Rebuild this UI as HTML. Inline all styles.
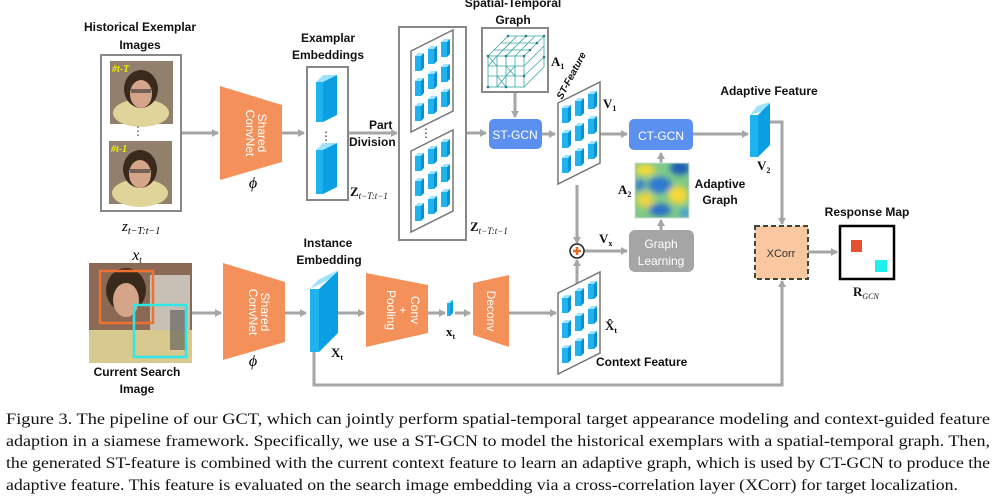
<!DOCTYPE html>
<html><head><meta charset="utf-8"><style>
html,body{margin:0;padding:0;background:#fff;width:997px;height:498px;overflow:hidden}
svg{display:block}
.l{font-family:"Liberation Sans",sans-serif;font-weight:bold;font-size:12px;fill:#111}
.m{font-family:"Liberation Serif",serif;font-weight:bold;font-size:13px;fill:#111}
.c{font-family:"Liberation Serif",serif;font-size:16px;fill:#111}
.w{font-family:"Liberation Sans",sans-serif;font-size:12px;fill:#fff}
</style></head><body>
<svg width="997" height="498" viewBox="0 0 997 498" xmlns="http://www.w3.org/2000/svg">
<defs>
<marker id="ah" markerWidth="8" markerHeight="8" refX="6" refY="4" orient="auto" markerUnits="userSpaceOnUse"><path d="M0,0 L7,4 L0,8 z" fill="#a6a6a6"/></marker>
<g id="blk"><polygon points="0,3 3,0 9,0 6,3" fill="#9be3ff"/><rect x="0" y="3" width="6" height="15" fill="#1eb3ee"/><polygon points="6,3 9,0 9,15 6,18" fill="#0b8fd0"/></g>
<g id="par">
<polygon points="0,21 42,0 42,81 0,102" fill="#fff" stroke="#777" stroke-width="1.5"/>
<use href="#blk" x="4" y="23"/><use href="#blk" x="17" y="16"/><use href="#blk" x="30" y="9"/>
<use href="#blk" x="4" y="48"/><use href="#blk" x="17" y="41"/><use href="#blk" x="30" y="34"/>
<use href="#blk" x="4" y="73"/><use href="#blk" x="17" y="66"/><use href="#blk" x="30" y="59"/>
</g>
<g id="face">
<rect width="63" height="63" fill="#6b5a4a"/>
<rect x="0" y="0" width="63" height="63" fill="#c9b9a0" opacity="0.4"/>
<ellipse cx="31" cy="52" rx="28" ry="14" fill="#e0d49a"/>
<ellipse cx="31" cy="28" rx="17" ry="19" fill="#3a2a1e"/>
<ellipse cx="31" cy="33" rx="11" ry="14" fill="#d5a58a"/>
<rect x="21" y="28" width="20" height="4" fill="#333" opacity="0.6"/>
</g>
<filter id="bl"><feGaussianBlur stdDeviation="3"/></filter>
<clipPath id="hc"><rect x="635" y="163" width="54" height="55"/></clipPath>
</defs>

<g stroke="#a6a6a6" stroke-width="3" fill="none">
<line x1="181" y1="133" x2="218" y2="133" marker-end="url(#ah)"/>
<line x1="282" y1="133" x2="304" y2="133" marker-end="url(#ah)"/>
<line x1="348" y1="133" x2="397" y2="133" marker-end="url(#ah)"/>
<line x1="466" y1="133" x2="486" y2="133" marker-end="url(#ah)"/>
<line x1="515" y1="92" x2="515" y2="117" marker-end="url(#ah)"/>
<line x1="542" y1="134" x2="555" y2="134" marker-end="url(#ah)"/>
<line x1="600" y1="134" x2="627" y2="134" marker-end="url(#ah)"/>
<line x1="693" y1="134" x2="748" y2="134" marker-end="url(#ah)"/>
<polyline points="770,122 782,122 782,224" marker-end="url(#ah)"/>
<line x1="661" y1="163" x2="661" y2="153" marker-end="url(#ah)"/>
<line x1="661" y1="230" x2="661" y2="220" marker-end="url(#ah)"/>
<line x1="577" y1="185" x2="577" y2="243" marker-end="url(#ah)"/>
<line x1="577" y1="285" x2="577" y2="260" marker-end="url(#ah)"/>
<line x1="584" y1="251" x2="627" y2="251" marker-end="url(#ah)"/>
<line x1="808" y1="252" x2="837" y2="252" marker-end="url(#ah)"/>
<line x1="192" y1="313" x2="221" y2="313" marker-end="url(#ah)"/>
<line x1="285" y1="313" x2="306" y2="313" marker-end="url(#ah)"/>
<line x1="338" y1="313" x2="364" y2="313" marker-end="url(#ah)"/>
<line x1="428" y1="313" x2="445" y2="313" marker-end="url(#ah)"/>
<line x1="455" y1="313" x2="470" y2="313" marker-end="url(#ah)"/>
<line x1="509" y1="313" x2="556" y2="313" marker-end="url(#ah)"/>
<polyline points="314,352 314,385 782,385 782,281" marker-end="url(#ah)"/>
</g>

<text class="l" x="140" y="31" text-anchor="middle">Historical Exemplar</text>
<text class="l" x="140" y="49" text-anchor="middle">Images</text>
<rect x="101" y="55" width="80" height="156" fill="#fff" stroke="#888" stroke-width="2"/>
<use href="#face" x="110" y="61"/>
<use href="#face" x="109" y="141"/>
<text x="112" y="72" font-family="Liberation Serif" font-style="italic" font-weight="bold" font-size="10" fill="#ee0">#t-T</text>
<text x="111" y="152" font-family="Liberation Serif" font-style="italic" font-weight="bold" font-size="10" fill="#ee0">#t-1</text>
<text x="138" y="135" font-size="12" text-anchor="middle" fill="#555">⋮</text>
<text x="122" y="231" font-family="Liberation Serif" font-style="italic" font-size="15">z<tspan font-size="10" dy="3">t−T:t−1</tspan></text>

<polygon points="220,86 282,105 282,162 220,180" fill="#f4915b"/>
<text class="w" transform="translate(246,133) rotate(90)" text-anchor="middle" font-size="11">ConvNet</text>
<text class="w" transform="translate(258,133) rotate(90)" text-anchor="middle" font-size="11">Shared</text>
<text x="253" y="188" font-family="Liberation Serif" font-style="italic" font-size="16" text-anchor="middle">ϕ</text>
<polygon points="223,263 285,282 285,342 223,360" fill="#f4915b"/>
<text class="w" transform="translate(249,312) rotate(90)" text-anchor="middle" font-size="11">ConvNet</text>
<text class="w" transform="translate(261,312) rotate(90)" text-anchor="middle" font-size="11">Shared</text>
<text x="253" y="366" font-family="Liberation Serif" font-style="italic" font-size="16" text-anchor="middle">ϕ</text>

<text class="l" x="328" y="42" text-anchor="middle">Examplar</text>
<text class="l" x="328" y="59" text-anchor="middle">Embeddings</text>
<rect x="307" y="67" width="41" height="133" fill="#fff" stroke="#888" stroke-width="2"/>
<g><polygon points="316,82 323,75 337,75 330,82" fill="#9be3ff"/><rect x="316" y="82" width="7" height="40" fill="#1eb3ee"/><polygon points="323,82 337,75 337,115 323,122" fill="#0b9ee0"/></g>
<g><polygon points="316,150 323,143 337,143 330,150" fill="#9be3ff"/><rect x="316" y="150" width="7" height="44" fill="#1eb3ee"/><polygon points="323,150 337,143 337,187 323,194" fill="#0b9ee0"/></g>
<text x="326" y="140" font-size="12" text-anchor="middle" fill="#333">⋮</text>
<text class="m" x="350" y="196" font-size="15">Z<tspan font-family="Liberation Serif" font-weight="normal" font-style="italic" font-size="9" dy="3">t−T:t−1</tspan></text>
<text class="l" x="369" y="129">Part</text>
<text class="l" x="349" y="146">Division</text>

<rect x="399" y="27" width="67" height="213" fill="#fff" stroke="#888" stroke-width="2"/>
<use href="#par" x="411" y="30"/>
<use href="#par" x="411" y="130"/>
<text x="426" y="137" font-size="12" text-anchor="middle" fill="#333">⋮</text>
<text class="m" x="470" y="231" font-size="15">Z<tspan font-family="Liberation Serif" font-weight="normal" font-style="italic" font-size="9" dy="3">t−T:t−1</tspan></text>

<text class="l" x="513" y="7" text-anchor="middle">Spatial-Temporal</text>
<text class="l" x="513" y="24" text-anchor="middle">Graph</text>
<rect x="482" y="28" width="66" height="64" fill="#fff" stroke="#888" stroke-width="2"/>
<g stroke="#3aa5a5" stroke-width="0.8" fill="none">
<rect x="488" y="56" width="36" height="31"/>
<line x1="497" y1="56" x2="497" y2="87"/><line x1="506" y1="56" x2="506" y2="87"/><line x1="515" y1="56" x2="515" y2="87"/>
<line x1="488" y1="66" x2="524" y2="66"/><line x1="488" y1="76" x2="524" y2="76"/>
<path d="M488,56 L508,36 L544,36 L544,67 L524,87 M524,56 L544,36 M497,56 L517,36 M506,56 L526,36 M515,56 L535,36 M494,50 L530,50 M501,43 L537,43 M524,66 L544,46 M524,76 L544,57"/>
<path d="M488,56 L497,66 M497,56 L488,66 M506,66 L515,76 M515,66 L506,76 M497,76 L506,87 M506,76 L497,87"/>
</g>
<g fill="#2b7a8a"><circle cx="488" cy="56" r="1.3"/><circle cx="506" cy="56" r="1.3"/><circle cx="524" cy="56" r="1.3"/><circle cx="508" cy="36" r="1.3"/><circle cx="526" cy="36" r="1.3"/><circle cx="544" cy="36" r="1.3"/><circle cx="544" cy="57" r="1.3"/><circle cx="524" cy="76" r="1.3"/><circle cx="488" cy="87" r="1.3"/><circle cx="506" cy="87" r="1.3"/><circle cx="530" cy="50" r="1.3"/><circle cx="537" cy="43" r="1.3"/></g>
<text class="m" x="551" y="66" font-size="14">A<tspan font-size="8" dy="3">1</tspan></text>

<rect x="489" y="119" width="53" height="30" rx="5" fill="#5b8ff0"/>
<text class="w" x="515" y="139" text-anchor="middle" font-size="13">ST-GCN</text>

<use href="#par" x="558" y="82"/>
<text transform="translate(562,100) rotate(-62)" font-family="Liberation Sans" font-style="italic" font-weight="bold" font-size="10" fill="#111">ST-Feature</text>
<text class="m" x="603" y="108" font-size="14">V<tspan font-size="8" dy="3">1</tspan></text>

<rect x="629" y="119" width="64" height="31" rx="5" fill="#5b8ff0"/>
<text class="w" x="661" y="140" text-anchor="middle" font-size="13">CT-GCN</text>

<text class="l" x="769" y="95" text-anchor="middle">Adaptive Feature</text>
<g><polygon points="750,115 757,106 770,102 763,111" fill="#9be3ff"/><rect x="750" y="115" width="8" height="42" fill="#1eb3ee"/><polygon points="758,115 770,103 770,145 758,157" fill="#0b9ee0"/></g>
<text class="m" x="757" y="170" font-size="14">V<tspan font-size="8" dy="3">2</tspan></text>

<g clip-path="url(#hc)">
<rect x="635" y="163" width="54" height="55" fill="#7fc98a"/>
<g filter="url(#bl)">
<ellipse cx="645" cy="170" rx="10" ry="6" fill="#f2d93a"/>
<ellipse cx="680" cy="168" rx="10" ry="7" fill="#1e5fb5"/>
<ellipse cx="660" cy="185" rx="12" ry="8" fill="#2f7ad0"/>
<ellipse cx="678" cy="195" rx="10" ry="9" fill="#f5d83a"/>
<ellipse cx="645" cy="200" rx="9" ry="8" fill="#e9d444"/>
<ellipse cx="660" cy="210" rx="11" ry="6" fill="#2a6fc8"/>
<ellipse cx="640" cy="185" rx="5" ry="6" fill="#3c7fd0"/>
<ellipse cx="685" cy="213" rx="6" ry="5" fill="#4aa0d0"/>
</g></g>
<rect x="635" y="163" width="54" height="55" fill="none" stroke="#cdd" stroke-width="1"/>
<text class="m" x="618" y="194" font-size="14">A<tspan font-size="8" dy="3">2</tspan></text>
<text class="l" x="720" y="188" text-anchor="middle">Adaptive</text>
<text class="l" x="720" y="204" text-anchor="middle">Graph</text>

<rect x="629" y="230" width="65" height="42" rx="6" fill="#a5a5a5"/>
<text class="w" x="661" y="248" text-anchor="middle" font-size="12">Graph</text>
<text class="w" x="661" y="265" text-anchor="middle" font-size="12">Learning</text>

<circle cx="577" cy="251" r="7" fill="#fff" stroke="#222" stroke-width="1.5"/>
<path d="M573,251 H581 M577,247 V255" stroke="#e07020" stroke-width="2.5"/>
<text class="m" x="599" y="243" font-size="13">V<tspan font-size="8" dy="3">x</tspan></text>

<use href="#par" x="558" y="272"/>
<text class="m" x="605" y="330" font-size="15">X̂<tspan font-size="8" dy="3">t</tspan></text>
<text class="l" x="596" y="366">Context  Feature</text>

<rect x="755" y="226" width="53" height="53" fill="#f9c8a0" stroke="#3a4a35" stroke-width="2" stroke-dasharray="5,3"/>
<text x="781" y="257" text-anchor="middle" font-family="Liberation Sans" font-size="11" fill="#333">XCorr</text>
<text class="l" x="867" y="216" text-anchor="middle">Response Map</text>
<rect x="840" y="226" width="54" height="53" fill="#fff" stroke="#000" stroke-width="2.5"/>
<rect x="851" y="240" width="11" height="12" fill="#e5502f"/>
<rect x="875" y="260" width="12" height="12" fill="#1ef0ee"/>
<text class="m" x="853" y="296" font-size="14">R<tspan font-weight="normal" font-style="italic" font-size="8" dy="3">GCN</tspan></text>

<text x="137" y="260" font-family="Liberation Serif" font-style="italic" font-size="16" text-anchor="middle">x<tspan font-size="9" dy="3">t</tspan></text>
<rect x="89" y="263" width="103" height="100" fill="#8a6a55"/>
<rect x="150" y="275" width="40" height="85" fill="#c8c0b5"/>
<rect x="89" y="330" width="103" height="33" fill="#d8c98e"/>
<ellipse cx="126" cy="290" rx="20" ry="22" fill="#3a2a1e"/>
<ellipse cx="126" cy="300" rx="13" ry="17" fill="#d5a58a"/>
<rect x="170" y="310" width="16" height="40" fill="#555" opacity="0.6"/>
<rect x="100" y="271" width="53" height="52" fill="none" stroke="#f07030" stroke-width="2.5"/>
<rect x="134" y="305" width="52" height="52" fill="none" stroke="#30e6e6" stroke-width="2.5"/>
<text class="l" x="137" y="376" text-anchor="middle">Current Search</text>
<text class="l" x="137" y="393" text-anchor="middle">Image</text>

<text class="l" x="328" y="247" text-anchor="middle">Instance</text>
<text class="l" x="329" y="264" text-anchor="middle">Embedding</text>
<g><polygon points="310,289 318,280 338,270 330,279" fill="#9be3ff"/><rect x="310" y="289" width="9" height="63" fill="#1eb3ee"/><polygon points="319,289 338,271 338,333 319,352" fill="#0b9ee0"/></g>
<text class="m" x="331" y="357" font-size="14">X<tspan font-size="8" dy="3">t</tspan></text>

<polygon points="366,273 428,285 428,333 366,347" fill="#f4915b"/>
<text class="w" transform="translate(411,310) rotate(90)" text-anchor="middle" font-size="11">Conv</text>
<text class="w" transform="translate(399,310) rotate(90)" text-anchor="middle" font-size="11">+</text>
<text class="w" transform="translate(387,310) rotate(90)" text-anchor="middle" font-size="11">Pooling</text>

<g><polygon points="447,303 449,301 453,300 451,302" fill="#9be3ff"/><rect x="447" y="303" width="3" height="13" fill="#1eb3ee"/><polygon points="450,303 453,300 453,313 450,316" fill="#0b9ee0"/></g>
<text class="m" x="446" y="336" font-size="13">x<tspan font-size="8" dy="3">t</tspan></text>

<polygon points="473,283 509,275 509,347 473,335" fill="#f4915b"/>
<text class="w" transform="translate(487,311) rotate(90)" text-anchor="middle" font-size="11">Deconv</text>

<text class="c" x="6" y="424" textLength="984" lengthAdjust="spacingAndGlyphs">Figure 3. The pipeline of our GCT, which can jointly perform spatial-temporal target appearance modeling and context-guided feature</text>
<text class="c" x="6" y="446" textLength="984" lengthAdjust="spacingAndGlyphs">adaption in a siamese framework. Specifically, we use a ST-GCN to model the historical exemplars with a spatial-temporal graph. Then,</text>
<text class="c" x="6" y="468" textLength="984" lengthAdjust="spacingAndGlyphs">the generated ST-feature is combined with the current context feature to learn an adaptive graph, which is used by CT-GCN to produce the</text>
<text class="c" x="6" y="490" textLength="952" lengthAdjust="spacingAndGlyphs">adaptive feature. This feature is evaluated on the search image embedding via a cross-correlation layer (XCorr) for target localization.</text>
</svg>
</body></html>
